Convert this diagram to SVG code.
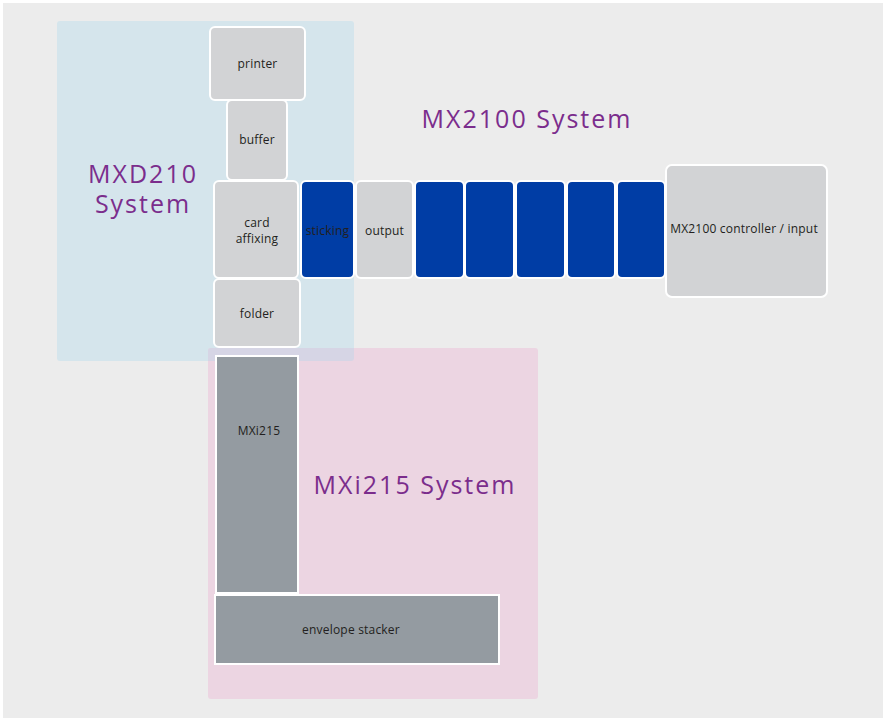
<svg xmlns="http://www.w3.org/2000/svg" width="886" height="721" viewBox="0 0 886 721">
<style>
.lbl{font-family:"Open Sans","Liberation Sans",sans-serif;font-size:12px;letter-spacing:0.2px;fill:#231f20;text-anchor:middle}
.ttl{font-family:"Open Sans","Liberation Sans",sans-serif;font-size:25px;font-weight:400;letter-spacing:2px;fill:#7b2d8c;text-anchor:middle}
.g{fill:#d2d3d5;stroke:#ffffff;stroke-width:2}
.b{fill:#003da5;stroke:#ffffff;stroke-width:2}
.d{fill:#949ba1;stroke:#ffffff;stroke-width:2}
</style>
<rect x="0" y="0" width="886" height="721" fill="#ffffff"/>
<rect x="3" y="3" width="880" height="715" fill="#ececec"/>
<g id="region-mxd210">
<rect x="57" y="21" width="297" height="340" rx="3" fill="#d5e5ec"/>
<text class="ttl" x="143" y="183">MXD210</text>
<text class="ttl" x="143" y="213">System</text>
</g>
<g id="region-mxi215">
<rect x="208" y="348" width="330" height="351" rx="3" fill="#ecd5e2"/>
<path d="M208 351 Q208 348 211 348 L354 348 L354 358 Q354 361 351 361 L208 361 Z" fill="#d6d5e5"/>
<text class="ttl" x="415" y="494">MXi215 System</text>
</g>
<g id="region-mx2100">
<text class="ttl" x="527" y="128">MX2100 System</text>
</g>
<g id="connectors"></g>
<g id="printer"><rect class="g" x="210" y="27" width="95" height="73" rx="5"/><text class="lbl" x="257.5" y="68">printer</text></g>
<g id="buffer"><rect class="g" x="227" y="100" width="60" height="80" rx="5"/><text class="lbl" x="257" y="144">buffer</text></g>
<g id="card-affixing"><rect class="g" x="214" y="181" width="84" height="97" rx="5"/><text class="lbl" x="257" y="227">card</text><text class="lbl" x="257" y="243">affixing</text></g>
<g id="folder"><rect class="g" x="214" y="279" width="86" height="68" rx="5"/><text class="lbl" x="257" y="318">folder</text></g>
<g id="sticking"><rect class="b" x="301" y="181" width="53" height="97" rx="5"/><text class="lbl" x="327.5" y="235">sticking</text></g>
<g id="output"><rect class="g" x="356" y="181" width="57" height="97" rx="5"/><text class="lbl" x="384.5" y="235">output</text></g>
<g id="blue-1"><rect class="b" x="415" y="181" width="49" height="97" rx="5"/></g>
<g id="blue-2"><rect class="b" x="465" y="181" width="49" height="97" rx="5"/></g>
<g id="blue-3"><rect class="b" x="516" y="181" width="49" height="97" rx="5"/></g>
<g id="blue-4"><rect class="b" x="567" y="181" width="48" height="97" rx="5"/></g>
<g id="blue-5"><rect class="b" x="617" y="181" width="48" height="97" rx="5"/></g>
<g id="controller"><rect class="g" x="666" y="165" width="161" height="132" rx="6"/><text class="lbl" x="744" y="233">MX2100 controller / input</text></g>
<g id="mxi215"><rect class="d" x="216" y="356" width="82" height="237"/><text class="lbl" x="259" y="435">MXi215</text></g>
<g id="envelope-stacker"><rect class="d" x="215" y="595" width="284" height="69"/><text class="lbl" x="351" y="634">envelope stacker</text></g>
</svg>
